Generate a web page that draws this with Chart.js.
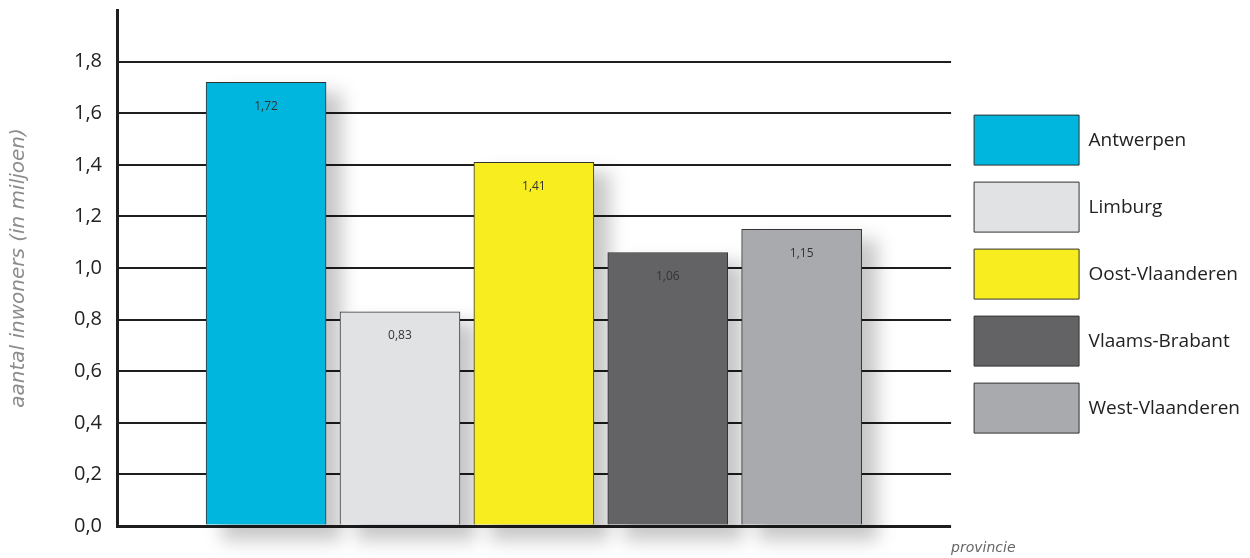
<!DOCTYPE html>
<html>
<head>
<meta charset="utf-8">
<script src="https://cdn.jsdelivr.net/npm/chart.js@4.4.0/dist/chart.umd.min.js"></script>
<style>
  html, body { margin: 0; padding: 0; background: #ffffff; }
  #wrap { width: 1250px; height: 558px; position: relative; }
</style>
</head>
<body>
<div id="wrap"><canvas id="chart"></canvas></div>
<script>
const provinces = ["Antwerpen", "Limburg", "Oost-Vlaanderen", "Vlaams-Brabant", "West-Vlaanderen"];
const inhabitants = [1.72, 0.83, 1.41, 1.06, 1.15]; // millions
const barColors = ["#00b6de", "#e1e2e4", "#f8ed1f", "#636365", "#a9aaad"];
const yTicks = [0, 0.2, 0.4, 0.6, 0.8, 1.0, 1.2, 1.4, 1.6, 1.8];

const FONT = "'Open Sans', 'Noto Sans', sans-serif";
const TITLE_FONT = "'DejaVu Sans', sans-serif";

function fmt(v) {
    return v.toFixed(2).replace(".", ",");
}

// one dataset per province so the legend lists every bar
const datasets = provinces.map((name, i) => ({
    label: name,
    data: [{ x: i, y: inhabitants[i] }],
    xAxisID: "x",
    yAxisID: "y",
    backgroundColor: barColors[i],
    borderColor: "#333333",
    borderWidth: 1,
    barThickness: 120,
    grouped: false
}));

// soft blurred shadow behind each bar, taken from the bar elements
const barShadow = {
    id: "barShadow",
    beforeDatasetsDraw(chart) {
        const ctx = chart.ctx;
        ctx.save();
        ctx.filter = "blur(9px)";
        ctx.fillStyle = "rgba(0,0,0,0.22)";
        chart.data.datasets.forEach((ds, i) => {
            const bar = chart.getDatasetMeta(i).data[0];
            const w = bar.width;
            ctx.fillRect(bar.x - w / 2 + 16, bar.y + 10, w, bar.base - bar.y + 6);
        });
        ctx.restore();
    }
};

// value text inside the top of each bar + "provincie" label
const barLabels = {
    id: "barLabels",
    afterDraw(chart) {
        const ctx = chart.ctx;
        ctx.save();
        ctx.font = "12px " + FONT;
        ctx.fillStyle = "#333333";
        ctx.textAlign = "center";
        ctx.textBaseline = "middle";
        chart.data.datasets.forEach((ds, i) => {
            const bar = chart.getDatasetMeta(i).data[0];
            ctx.fillText(fmt(ds.data[0].y), bar.x, bar.y + 24);
        });
        ctx.font = "oblique 14px " + TITLE_FONT;
        ctx.fillStyle = "#666666";
        ctx.textAlign = "left";
        ctx.fillText("provincie", chart.chartArea.right, 548);
        ctx.restore();
    }
};

new Chart(document.getElementById("chart"), {
    type: "bar",
    data: { datasets: datasets },
    options: {
        responsive: true,
        maintainAspectRatio: false,
        animation: false,
        layout: { padding: { top: 10, bottom: 32, left: 0, right: 0 } },
        plugins: {
            tooltip: { enabled: false },
            legend: {
                position: "right",
                maxWidth: 400,
                title: { display: true, text: "", font: { size: 1 }, padding: { top: 0, bottom: 11 } },
                labels: {
                    boxWidth: 105,
                    boxHeight: 50,
                    padding: 17,
                    color: "#222222",
                    font: { family: FONT, size: 19 }
                }
            }
        },
        scales: {
            x: {
                type: "linear",
                display: false,
                offset: false,
                min: -1.113,
                max: 5.116
            },
            y: {
                min: 0,
                max: 2,
                afterBuildTicks(scale) {
                    scale.ticks = yTicks.concat([2]).map(v => ({ value: v }));
                },
                afterFit(scale) {
                    scale.paddingTop = 0;
                },
                ticks: {
                    padding: 15,
                    color: "#222222",
                    font: { family: FONT, size: 20 },
                    callback: v => v > 1.9 ? "" : v.toFixed(1).replace(".", ",")
                },
                grid: {
                    drawTicks: false,
                    color: ctx => ctx.tick && ctx.tick.value > 1.9 ? "rgba(0,0,0,0)" : "#1e1e1e",
                    lineWidth: ctx => ctx.tick && ctx.tick.value === 0 ? 3 : 2
                },
                border: { display: true, color: "#1e1e1e", width: 3 },
                title: {
                    display: true,
                    text: "aantal inwoners (in miljoen)",
                    color: "#8c8c8c",
                    font: { family: TITLE_FONT, size: 20, style: "oblique" },
                    padding: { top: 7, bottom: 28 }
                }
            },
            // empty spacer between plot and legend
            gap: {
                axis: "y",
                position: "right",
                display: true,
                ticks: { display: false },
                grid: { display: false, drawTicks: false },
                border: { display: false },
                afterFit(scale) { scale.width = 6; }
            }
        }
    },
    plugins: [barShadow, barLabels]
});
</script>
</body>
</html>
